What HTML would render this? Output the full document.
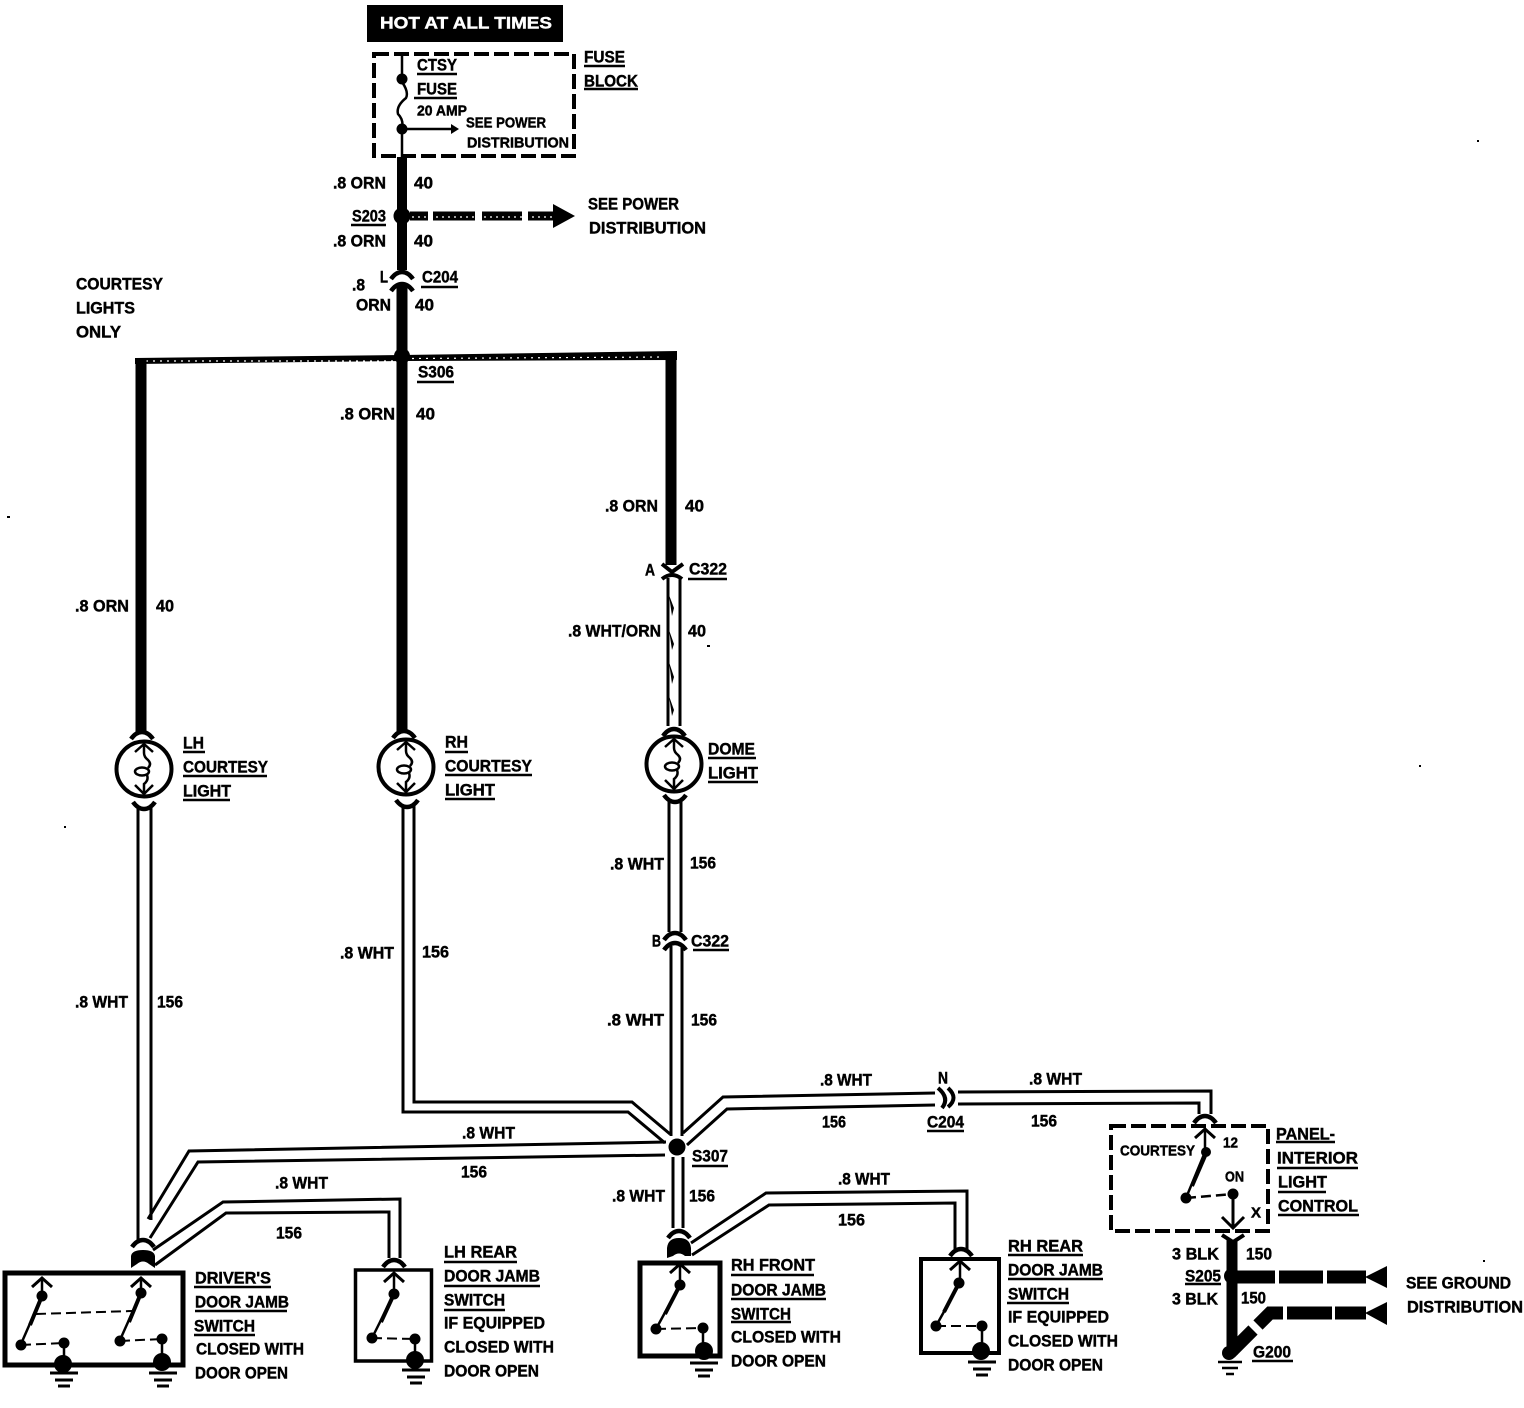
<!DOCTYPE html>
<html><head><meta charset="utf-8"><title>Courtesy lights wiring diagram</title>
<style>
html,body{margin:0;padding:0;background:#fff}
svg{display:block}
text{font-family:"Liberation Sans",sans-serif;font-weight:bold;font-size:17px;fill:#000;stroke:#000;stroke-width:.45;transform:translateY(-.7px)}
.s{font-size:15px}
.w{fill:none;stroke:#000;stroke-width:3;stroke-linejoin:miter}
.u{stroke:#000;stroke-width:2.5}
</style></head><body>
<svg width="1524" height="1408" viewBox="0 0 1524 1408" xmlns="http://www.w3.org/2000/svg">
<defs>
<g id="bulb">
<circle r="27.5" fill="#fff" stroke="#000" stroke-width="4"/>
<path d="M-9 -17L0 -25L9 -17M0 -25V-16Q0 -12 4 -9Q8 -5 4 -1M3 6Q5 11 0 15V25M-9 16L0 25L9 16" fill="none" stroke="#000" stroke-width="2.5"/>
<ellipse cx="-2" cy="2.500" rx="7" ry="4" fill="none" stroke="#000" stroke-width="2.500"/>
</g>
<g id="gnd"><path d="M-14 0H14M-9 7H9M-6 13H6" stroke="#000" stroke-width="3" fill="none"/></g>
<g id="up"><path d="M-10 8L0 -1L10 8" fill="none" stroke="#000" stroke-width="3"/></g>
<g id="arc"><path d="M-11 5Q-6 -2 0 -2Q6 -2 11 5" fill="none" stroke="#000" stroke-width="4.5"/></g>
</defs>

<!-- stray specks -->
<path d="M7 516h3v2h-3zM64 826h2v2h-2zM1477 140h2v2h-2zM1419 765h2v2h-2zM1028 1090h0zM1483 1260h2v2h-2zM1090 1040h0zM1230 610h0z"/>

<!-- top -->
<rect x="367" y="5" width="196" height="37" fill="#000"/>
<text x="380" y="29" textLength="172" lengthAdjust="spacingAndGlyphs" style="fill:#fff;stroke:#fff">HOT AT ALL TIMES</text>
<rect x="374" y="54" width="200" height="102" fill="none" stroke="#000" stroke-width="4" stroke-dasharray="15 5"/>
<path d="M402 54V82Q409 92 406 98Q396 106 398 114Q404 120 402 129V157" fill="none" stroke="#000" stroke-width="2.5"/>
<circle cx="402" cy="79" r="5.5"/><circle cx="402" cy="129" r="5.5"/>
<path d="M402 129H452" stroke="#000" stroke-width="2.5"/><path d="M451 124L459 129L451 134Z"/>
<text x="417" y="71" textLength="40" lengthAdjust="spacingAndGlyphs">CTSY</text><path class="u" d="M417 74H457"/>
<text x="417" y="95" textLength="40" lengthAdjust="spacingAndGlyphs">FUSE</text><path class="u" d="M414 98H457"/>
<text class="s" x="417" y="116" textLength="50" lengthAdjust="spacingAndGlyphs">20 AMP</text>
<text class="s" x="466" y="128" textLength="80" lengthAdjust="spacingAndGlyphs">SEE POWER</text>
<text class="s" x="467" y="148" textLength="102" lengthAdjust="spacingAndGlyphs">DISTRIBUTION</text>
<text x="584" y="63" textLength="41" lengthAdjust="spacingAndGlyphs">FUSE</text><path class="u" d="M584 66H625"/>
<text x="584" y="87" textLength="54" lengthAdjust="spacingAndGlyphs">BLOCK</text><path class="u" d="M584 89H638"/>

<!-- main thick wires -->
<path d="M402 157V270" stroke="#000" stroke-width="10"/>
<circle cx="402" cy="216" r="8.5"/>
<path d="M410 216H428M433 216H475M482 216H522M528 216H556" stroke="#000" stroke-width="9"/>
<path d="M412 217H555" stroke="#fff" stroke-width="1.200" stroke-dasharray="2 4"/>
<path d="M553 204L575 216L553 228Z"/>
<use href="#arc" x="402" y="274"/><use href="#arc" x="402" y="286"/>
<path d="M402 284V732" stroke="#000" stroke-width="11"/>
<path d="M135 358L402 355L677 351V360L402 361L135 364Z"/>
<path d="M146 361H394M412 358.500L664 357" stroke="#fff" stroke-width="1.200" stroke-dasharray="2 5"/>
<path d="M141 358V732" stroke="#000" stroke-width="11"/>
<path d="M671 352V565" stroke="#000" stroke-width="11"/>
<circle cx="402" cy="356" r="8"/>

<text x="333" y="189" textLength="53" lengthAdjust="spacingAndGlyphs">.8 ORN</text>
<text x="414" y="189" textLength="19" lengthAdjust="spacingAndGlyphs">40</text>
<text x="588" y="210" textLength="91" lengthAdjust="spacingAndGlyphs">SEE POWER</text>
<text x="589" y="234" textLength="117" lengthAdjust="spacingAndGlyphs">DISTRIBUTION</text>
<text x="352" y="222" textLength="34" lengthAdjust="spacingAndGlyphs">S203</text><path class="u" d="M351 225H386"/>
<text x="333" y="247" textLength="53" lengthAdjust="spacingAndGlyphs">.8 ORN</text>
<text x="414" y="247" textLength="19" lengthAdjust="spacingAndGlyphs">40</text>
<text x="380" y="283" textLength="8" lengthAdjust="spacingAndGlyphs">L</text>
<text x="422" y="283" textLength="36" lengthAdjust="spacingAndGlyphs">C204</text><path class="u" d="M421 287H458"/>
<text x="352" y="291" textLength="13" lengthAdjust="spacingAndGlyphs">.8</text>
<text x="356" y="311" textLength="35" lengthAdjust="spacingAndGlyphs">ORN</text>
<text x="415" y="311" textLength="19" lengthAdjust="spacingAndGlyphs">40</text>
<text x="76" y="290" textLength="87" lengthAdjust="spacingAndGlyphs">COURTESY</text>
<text x="76" y="314" textLength="59" lengthAdjust="spacingAndGlyphs">LIGHTS</text>
<text x="76" y="338" textLength="45" lengthAdjust="spacingAndGlyphs">ONLY</text>
<text x="418" y="378" textLength="36" lengthAdjust="spacingAndGlyphs">S306</text><path class="u" d="M417 382H454"/>
<text x="340" y="420" textLength="55" lengthAdjust="spacingAndGlyphs">.8 ORN</text>
<text x="416" y="420" textLength="19" lengthAdjust="spacingAndGlyphs">40</text>
<text x="605" y="512" textLength="53" lengthAdjust="spacingAndGlyphs">.8 ORN</text>
<text x="685" y="512" textLength="19" lengthAdjust="spacingAndGlyphs">40</text>
<text x="75" y="612" textLength="54" lengthAdjust="spacingAndGlyphs">.8 ORN</text>
<text x="156" y="612" textLength="18" lengthAdjust="spacingAndGlyphs">40</text>

<!-- C322 A and wht/orn -->
<path d="M662 564L672 572L683 564" fill="none" stroke="#000" stroke-width="4"/>
<path d="M662 579Q672 571 682 579" fill="none" stroke="#000" stroke-width="4"/>
<text x="645" y="576" textLength="10" lengthAdjust="spacingAndGlyphs">A</text>
<text x="689" y="575" textLength="38" lengthAdjust="spacingAndGlyphs">C322</text><path class="u" d="M688 579H727"/>
<path class="w" d="M668 578V726M680 578V726"/>
<path d="M669 595L674 608L672 616ZM669 630L674 644L672 650ZM669 662L674 677L672 684ZM669 696L674 710L672 716Z"/>
<text x="568" y="637" textLength="93" lengthAdjust="spacingAndGlyphs">.8 WHT/ORN</text>
<text x="688" y="637" textLength="18" lengthAdjust="spacingAndGlyphs">40</text>
<rect x="707" y="645" width="3" height="2"/>

<!-- bulbs -->
<use href="#arc" x="142" y="734"/><use href="#arc" x="404" y="733"/><use href="#arc" x="674" y="731"/>
<use href="#bulb" x="144" y="769"/><use href="#bulb" x="406" y="767"/><use href="#bulb" x="674" y="764"/>
<g transform="scale(1 -1)"><use href="#arc" x="144" y="-807"/><use href="#arc" x="407" y="-805"/><use href="#arc" x="675" y="-800"/></g>

<text x="183" y="749" textLength="21" lengthAdjust="spacingAndGlyphs">LH</text><path class="u" d="M183 752H205"/>
<text x="183" y="773" textLength="85" lengthAdjust="spacingAndGlyphs">COURTESY</text><path class="u" d="M183 776H267"/>
<text x="183" y="797" textLength="48" lengthAdjust="spacingAndGlyphs">LIGHT</text><path class="u" d="M183 800H230"/>
<text x="445" y="748" textLength="23" lengthAdjust="spacingAndGlyphs">RH</text><path class="u" d="M445 752H468"/>
<text x="445" y="772" textLength="87" lengthAdjust="spacingAndGlyphs">COURTESY</text><path class="u" d="M445 775H532"/>
<text x="445" y="796" textLength="50" lengthAdjust="spacingAndGlyphs">LIGHT</text><path class="u" d="M445 799H495"/>
<text x="708" y="755" textLength="47" lengthAdjust="spacingAndGlyphs">DOME</text><path class="u" d="M708 758H756"/>
<text x="708" y="779" textLength="50" lengthAdjust="spacingAndGlyphs">LIGHT</text><path class="u" d="M708 782H758"/>

<!-- white wires -->
<path class="w" d="M138 807V1240M151 807V1220"/>
<path class="w" d="M403 805V1112H628L665 1143M414 805V1102H632L670 1134"/>
<path class="w" d="M669 801V932M681 801V932M671 946V1136M682 946V1136"/>
<use href="#arc" x="675" y="935"/><use href="#arc" x="675" y="945"/>
<path class="w" d="M673 1157V1228M683 1157V1228"/>
<path class="w" d="M666 1142L189 1151L148 1219M665 1155L198 1162L150 1238"/>
<path class="w" d="M683 1133L723 1097L935 1093M687 1145L727 1109L935 1105"/>
<path class="w" d="M958 1092L1211 1091V1114M958 1104L1199 1103V1114"/>
<path d="M938 1088Q950 1098 942 1108" fill="none" stroke="#000" stroke-width="4"/>
<path d="M948 1088Q959 1098 948 1107" fill="none" stroke="#000" stroke-width="4"/>
<path class="w" d="M153 1250L223 1202L400 1199V1258M155 1265L226 1213L389 1212V1258"/>
<path class="w" d="M691 1243L766 1193L967 1191V1250M692 1255L769 1205L955 1203V1250"/>
<circle cx="677" cy="1147" r="8.5"/>

<text x="610" y="870" textLength="54" lengthAdjust="spacingAndGlyphs">.8 WHT</text>
<text x="690" y="869" textLength="26" lengthAdjust="spacingAndGlyphs">156</text>
<text x="652" y="947" textLength="9" lengthAdjust="spacingAndGlyphs">B</text>
<text x="691" y="947" textLength="38" lengthAdjust="spacingAndGlyphs">C322</text><path class="u" d="M693 950H729"/>
<text x="340" y="959" textLength="54" lengthAdjust="spacingAndGlyphs">.8 WHT</text>
<text x="422" y="958" textLength="27" lengthAdjust="spacingAndGlyphs">156</text>
<text x="75" y="1008" textLength="53" lengthAdjust="spacingAndGlyphs">.8 WHT</text>
<text x="157" y="1008" textLength="26" lengthAdjust="spacingAndGlyphs">156</text>
<text x="607" y="1026" textLength="57" lengthAdjust="spacingAndGlyphs">.8  WHT</text>
<text x="691" y="1026" textLength="26" lengthAdjust="spacingAndGlyphs">156</text>
<text x="820" y="1086" textLength="52" lengthAdjust="spacingAndGlyphs">.8 WHT</text>
<text x="822" y="1128" textLength="24" lengthAdjust="spacingAndGlyphs">156</text>
<text x="938" y="1084" textLength="10" lengthAdjust="spacingAndGlyphs">N</text>
<text x="927" y="1128" textLength="37" lengthAdjust="spacingAndGlyphs">C204</text><path class="u" d="M927 1131H964"/>
<text x="1029" y="1085" textLength="53" lengthAdjust="spacingAndGlyphs">.8 WHT</text>
<text x="1031" y="1127" textLength="26" lengthAdjust="spacingAndGlyphs">156</text>
<text x="462" y="1139" textLength="53" lengthAdjust="spacingAndGlyphs">.8 WHT</text>
<text x="461" y="1178" textLength="26" lengthAdjust="spacingAndGlyphs">156</text>
<text x="275" y="1189" textLength="53" lengthAdjust="spacingAndGlyphs">.8 WHT</text>
<text x="276" y="1239" textLength="26" lengthAdjust="spacingAndGlyphs">156</text>
<text x="692" y="1162" textLength="36" lengthAdjust="spacingAndGlyphs">S307</text><path class="u" d="M692 1166H728"/>
<text x="612" y="1202" textLength="53" lengthAdjust="spacingAndGlyphs">.8 WHT</text>
<text x="689" y="1202" textLength="26" lengthAdjust="spacingAndGlyphs">156</text>
<text x="838" y="1185" textLength="52" lengthAdjust="spacingAndGlyphs">.8 WHT</text>
<text x="838" y="1226" textLength="27" lengthAdjust="spacingAndGlyphs">156</text>

<!-- driver's switch -->
<use href="#arc" x="143" y="1242"/>
<path d="M131 1268V1256Q132 1250 143 1250Q154 1250 155 1256V1268L149 1264Q143 1259 137 1264Z"/>
<rect x="5" y="1273" width="178" height="92" fill="none" stroke="#000" stroke-width="5"/>
<use href="#up" x="42" y="1279"/><use href="#up" x="141" y="1279"/>
<path d="M42 1279V1296L21 1344M141 1279V1293L120 1340" stroke="#000" stroke-width="2.5" fill="none"/>
<path d="M42 1296L30 1325M141 1293L129 1322" stroke="#000" stroke-width="4"/>
<circle cx="42" cy="1296" r="5.5"/><circle cx="141" cy="1293" r="5.5"/>
<circle cx="21" cy="1345" r="5.5"/><circle cx="120" cy="1341" r="5.5"/>
<circle cx="64" cy="1343" r="5.5"/><circle cx="162" cy="1339" r="5.5"/>
<path d="M21 1345L64 1343M120 1341L162 1339M36 1314L132 1311" stroke="#000" stroke-width="2" stroke-dasharray="10 5" fill="none"/>
<path d="M64 1343V1364M162 1339V1362" stroke="#000" stroke-width="2.5"/>
<circle cx="63" cy="1364" r="9"/><circle cx="162" cy="1362" r="9"/>
<use href="#gnd" x="64" y="1373"/><use href="#gnd" x="163" y="1373"/>
<text x="195" y="1284" textLength="76" lengthAdjust="spacingAndGlyphs">DRIVER'S</text><path class="u" d="M194 1287H271"/>
<text x="195" y="1308" textLength="94" lengthAdjust="spacingAndGlyphs">DOOR JAMB</text><path class="u" d="M195 1311H287"/>
<text x="194" y="1332" textLength="61" lengthAdjust="spacingAndGlyphs">SWITCH</text><path class="u" d="M194 1335H255"/>
<text x="196" y="1355" textLength="108" lengthAdjust="spacingAndGlyphs">CLOSED WITH</text>
<text x="195" y="1379" textLength="93" lengthAdjust="spacingAndGlyphs">DOOR OPEN</text>

<!-- LH rear -->
<use href="#arc" x="394" y="1262"/>
<rect x="355.500" y="1270" width="76" height="91" fill="none" stroke="#000" stroke-width="3.500"/>
<use href="#up" x="394" y="1274"/>
<path d="M394 1274V1294L372 1338" stroke="#000" stroke-width="2.500" fill="none"/><path d="M394 1294L381 1322" stroke="#000" stroke-width="4"/>
<circle cx="394" cy="1294" r="5.500"/><circle cx="372" cy="1338" r="5.500"/><circle cx="415" cy="1339" r="5.500"/>
<path d="M372 1338L415 1339" stroke="#000" stroke-width="2" stroke-dasharray="10 5"/>
<path d="M415 1339V1360" stroke="#000" stroke-width="2.500"/><circle cx="415" cy="1360" r="9"/>
<use href="#gnd" x="416" y="1370"/>
<text x="444" y="1258" textLength="73" lengthAdjust="spacingAndGlyphs">LH REAR</text><path class="u" d="M444 1262H517"/>
<text x="444" y="1282" textLength="96" lengthAdjust="spacingAndGlyphs">DOOR JAMB</text><path class="u" d="M444 1286H540"/>
<text x="444" y="1306" textLength="61" lengthAdjust="spacingAndGlyphs">SWITCH</text><path class="u" d="M444 1310H505"/>
<text x="444" y="1329" textLength="101" lengthAdjust="spacingAndGlyphs">IF EQUIPPED</text>
<text x="444" y="1353" textLength="110" lengthAdjust="spacingAndGlyphs">CLOSED WITH</text>
<text x="444" y="1377" textLength="95" lengthAdjust="spacingAndGlyphs">DOOR OPEN</text>

<!-- RH front -->
<use href="#arc" x="679" y="1233"/>
<path d="M667 1258V1248Q668 1238 679 1238Q690 1238 691 1248V1256L685 1256Q679 1251 673 1256Z"/>
<rect x="640" y="1263" width="80" height="93" fill="none" stroke="#000" stroke-width="5"/>
<use href="#up" x="680" y="1265"/>
<path d="M680 1265V1285L656 1329" stroke="#000" stroke-width="2.500" fill="none"/><path d="M680 1285L665 1314" stroke="#000" stroke-width="4"/>
<circle cx="680" cy="1285" r="5.500"/><circle cx="656" cy="1329" r="5.500"/><circle cx="703" cy="1328" r="5.500"/>
<path d="M656 1329L703 1328" stroke="#000" stroke-width="2" stroke-dasharray="10 5"/>
<path d="M703 1328V1352" stroke="#000" stroke-width="2.500"/><circle cx="704" cy="1351" r="9"/>
<use href="#gnd" x="704" y="1363"/>
<text x="731" y="1271" textLength="84" lengthAdjust="spacingAndGlyphs">RH FRONT</text><path class="u" d="M731 1275H814"/>
<text x="731" y="1296" textLength="95" lengthAdjust="spacingAndGlyphs">DOOR JAMB</text><path class="u" d="M731 1299H826"/>
<text x="731" y="1320" textLength="60" lengthAdjust="spacingAndGlyphs">SWITCH</text><path class="u" d="M731 1322H791"/>
<text x="731" y="1343" textLength="110" lengthAdjust="spacingAndGlyphs">CLOSED WITH</text>
<text x="731" y="1367" textLength="95" lengthAdjust="spacingAndGlyphs">DOOR OPEN</text>

<!-- RH rear -->
<use href="#arc" x="961" y="1251"/>
<rect x="921" y="1259" width="78" height="94" fill="none" stroke="#000" stroke-width="4"/>
<use href="#up" x="960" y="1262"/>
<path d="M960 1262V1283L936 1326" stroke="#000" stroke-width="2.500" fill="none"/><path d="M959 1283L944 1312" stroke="#000" stroke-width="4"/>
<circle cx="959" cy="1283" r="5.500"/><circle cx="936" cy="1326" r="5.500"/><circle cx="982" cy="1326" r="5.500"/>
<path d="M936 1326L982 1326" stroke="#000" stroke-width="2" stroke-dasharray="10 5"/>
<path d="M982 1326V1350" stroke="#000" stroke-width="2.500"/><circle cx="981" cy="1351" r="9"/>
<use href="#gnd" x="982" y="1362"/>
<text x="1008" y="1252" textLength="75" lengthAdjust="spacingAndGlyphs">RH REAR</text><path class="u" d="M1008 1255H1083"/>
<text x="1008" y="1276" textLength="95" lengthAdjust="spacingAndGlyphs">DOOR JAMB</text><path class="u" d="M1008 1279H1103"/>
<text x="1008" y="1300" textLength="61" lengthAdjust="spacingAndGlyphs">SWITCH</text><path class="u" d="M1007 1303H1069"/>
<text x="1008" y="1323" textLength="101" lengthAdjust="spacingAndGlyphs">IF EQUIPPED</text>
<text x="1008" y="1347" textLength="110" lengthAdjust="spacingAndGlyphs">CLOSED WITH</text>
<text x="1008" y="1371" textLength="95" lengthAdjust="spacingAndGlyphs">DOOR OPEN</text>

<!-- panel control -->
<use href="#arc" x="1205" y="1118"/>
<rect x="1111" y="1126" width="157" height="105" fill="none" stroke="#000" stroke-width="4" stroke-dasharray="15 5"/>
<use href="#up" x="1205" y="1130"/>
<path d="M1205 1130V1152L1186 1198" stroke="#000" stroke-width="2.500" fill="none"/><path d="M1205 1156L1192 1186" stroke="#000" stroke-width="4"/>
<circle cx="1206" cy="1152" r="5"/><circle cx="1186" cy="1198" r="5.500"/><circle cx="1233" cy="1194" r="5.500"/>
<path d="M1186 1198L1233 1194" stroke="#000" stroke-width="2.500" stroke-dasharray="10 5"/>
<path d="M1233 1194V1226M1222 1217L1233 1228L1244 1217" stroke="#000" stroke-width="3" fill="none"/>
<text class="s" x="1120" y="1156" textLength="75" lengthAdjust="spacingAndGlyphs">COURTESY</text>
<text class="s" x="1223" y="1148" textLength="15" lengthAdjust="spacingAndGlyphs">12</text>
<text class="s" x="1225" y="1182" textLength="19" lengthAdjust="spacingAndGlyphs">ON</text>
<text class="s" x="1251" y="1218" textLength="10" lengthAdjust="spacingAndGlyphs">X</text>
<text x="1276" y="1140" textLength="59" lengthAdjust="spacingAndGlyphs">PANEL-</text><path class="u" d="M1276 1142H1335"/>
<text x="1277" y="1164" textLength="81" lengthAdjust="spacingAndGlyphs">INTERIOR</text><path class="u" d="M1277 1168H1358"/>
<text x="1278" y="1188" textLength="49" lengthAdjust="spacingAndGlyphs">LIGHT</text><path class="u" d="M1278 1192H1326"/>
<text x="1278" y="1212" textLength="80" lengthAdjust="spacingAndGlyphs">CONTROL</text><path class="u" d="M1278 1215H1359"/>

<!-- ground wires -->
<path d="M1222 1235L1233 1242L1244 1235" fill="none" stroke="#000" stroke-width="4"/>
<path d="M1232 1240V1355" stroke="#000" stroke-width="11"/>
<circle cx="1232" cy="1276" r="8"/>
<path d="M1236 1277H1275M1279 1277H1323M1327 1277H1366M1287 1313H1332M1335 1313H1366" stroke="#000" stroke-width="13"/>
<path d="M1283 1313H1270L1258 1325" stroke="#000" stroke-width="13" fill="none"/>
<path d="M1253 1330L1230 1353" stroke="#000" stroke-width="13"/>
<path d="M1365 1277L1387 1266V1288ZM1365 1313L1387 1302V1325Z"/>
<circle cx="1229" cy="1353" r="7"/>
<path d="M1218 1362H1242M1222 1368H1238M1226 1374H1234" stroke="#000" stroke-width="2.500"/>
<text x="1172" y="1260" textLength="47" lengthAdjust="spacingAndGlyphs">3 BLK</text>
<text x="1246" y="1260" textLength="26" lengthAdjust="spacingAndGlyphs">150</text>
<text x="1185" y="1282" textLength="36" lengthAdjust="spacingAndGlyphs">S205</text><path class="u" d="M1185 1284H1221"/>
<text x="1172" y="1305" textLength="46" lengthAdjust="spacingAndGlyphs">3 BLK</text>
<text x="1241" y="1304" textLength="25" lengthAdjust="spacingAndGlyphs">150</text>
<text x="1253" y="1358" textLength="38" lengthAdjust="spacingAndGlyphs">G200</text><path class="u" d="M1252 1361H1293"/>
<text x="1406" y="1289" textLength="105" lengthAdjust="spacingAndGlyphs">SEE GROUND</text>
<text x="1407" y="1313" textLength="116" lengthAdjust="spacingAndGlyphs">DISTRIBUTION</text>
</svg>
</body></html>
